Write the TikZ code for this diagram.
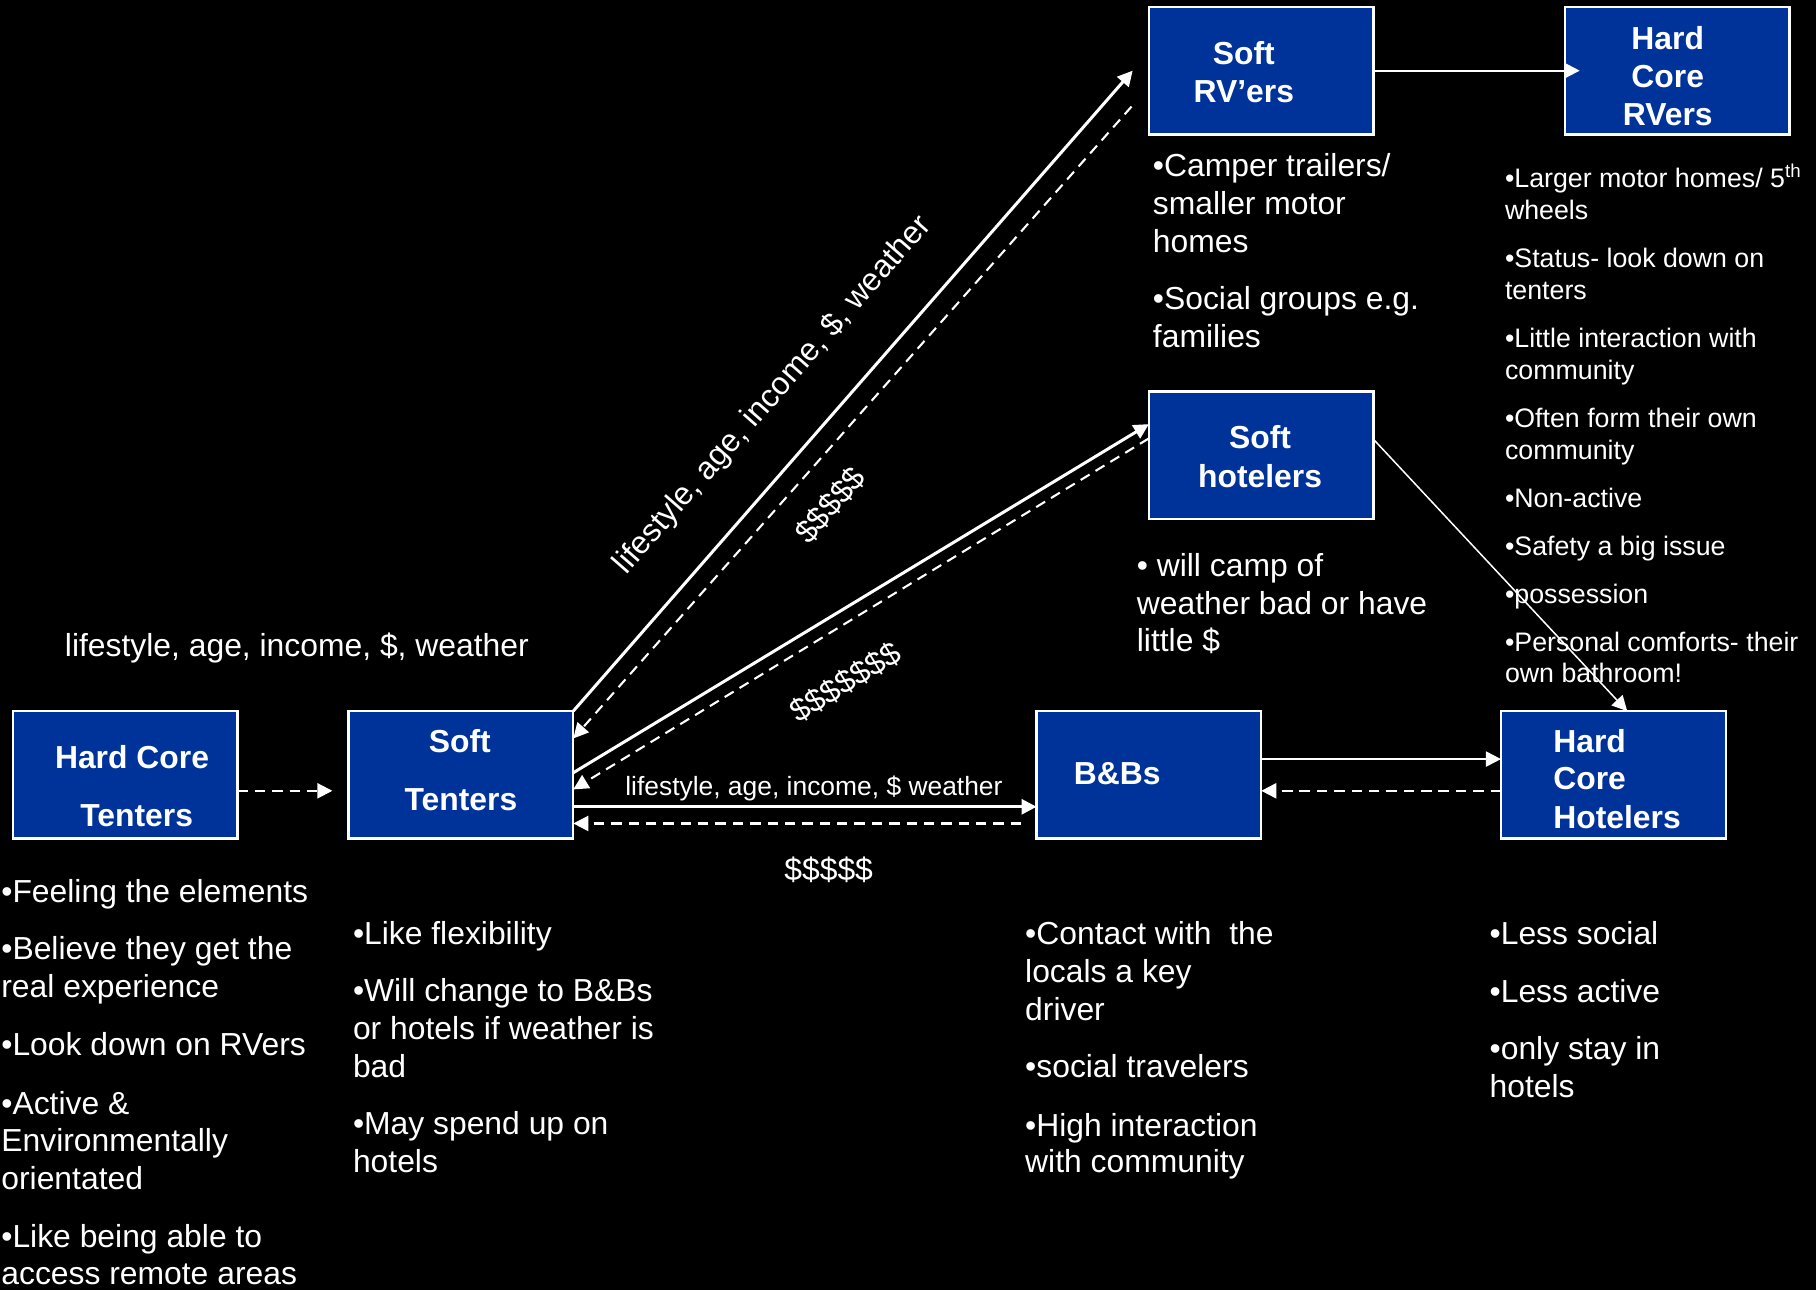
\documentclass[tikz,border=0pt]{standalone}
\usepackage{fontspec}
\setmainfont{Liberation Sans}
\usetikzlibrary{arrows.meta}
\definecolor{boxblue}{HTML}{003399}
\begin{document}
\begin{tikzpicture}[x=1pt,y=-1pt,
  box/.style={draw=white,line width=2pt,fill=boxblue,minimum width=194pt,minimum height=110pt,inner sep=0pt,outer sep=0pt},
  btxt/.style={text=white,font=\fontsize{27.5}{33}\selectfont\bfseries,inner sep=0pt,anchor=base},
  body/.style={text=white,font=\fontsize{27.5}{33}\selectfont,inner sep=0pt,anchor=base west},
  small/.style={text=white,font=\fontsize{23.1}{28}\selectfont,inner sep=0pt,anchor=base west},
  arr/.style={draw=white,-{Triangle[length=13pt,width=13pt]}},
  thickarr/.style={arr,line width=2.6pt},
  dasharr/.style={arr,line width=1.8pt,dash pattern=on 9pt off 6pt},
  thinarr/.style={arr,line width=1.8pt},
  hairarr/.style={arr,line width=1.3pt}
]
\path[use as bounding box,fill=black] (0,0) rectangle (1568,1114);

% boxes
\node[box] (hct) at (108,669) {};
\node[box] (st) at (398,669) {};
\node[box] (bb) at (992,669) {};
\node[box] (hch) at (1393,669) {};
\node[box] (srv) at (1089,61) {};
\node[box] (hcrv) at (1448,61) {};
\node[box] (sh) at (1089,393) {};

% connectors
\draw[dasharr] ([yshift=-13.8pt]hct.east) -- ([xshift=-14pt,yshift=-13.8pt]st.west);
\draw[thickarr] (st.north east) -- ([xshift=-14pt]srv.west);
\draw[dasharr] ([xshift=-15pt,yshift=-31pt]srv.west) -- ([yshift=-23.6pt]st.north east);
\draw[thickarr] ([yshift=1.8pt]st.east) -- ([yshift=26.8pt]sh.west);
\draw[dasharr] ([yshift=14.5pt]sh.west) -- ([yshift=-12.6pt]st.east);
\draw[thickarr] ([yshift=-27.6pt]st.east) -- ([yshift=-27.6pt]bb.west);
\draw[dasharr] ([xshift=-13.3pt,yshift=-42pt]bb.west) -- ([yshift=-42pt]st.east);
\draw[thinarr] (srv.east) -- ([xshift=13pt]hcrv.west);
\draw[thinarr] ([yshift=13.6pt]bb.east) -- ([yshift=13.6pt]hch.west);
\draw[dasharr] ([yshift=-13.8pt]hch.west) -- ([yshift=-13.8pt]bb.east);

% box labels
\node[btxt] (hct1) at (114,663.5) {Hard Core};
\node[btxt] (hct2) at (118,714) {Tenters};
\node[btxt] (st1) at (397,650) {Soft};
\node[btxt] (st2) at (398,700) {Tenters};
\node[btxt] (srv1) at (1074,56) {Soft};
\node[btxt] (srv2) at (1074,88.5) {RV’ers};
\node[btxt] (hcrv1) at (1440,42.5) {Hard};
\node[btxt] (hcrv2) at (1440,75.5) {Core};
\node[btxt] (hcrv3) at (1440,108) {RVers};
\node[btxt] (sh1) at (1088,387.5) {Soft};
\node[btxt] (sh2) at (1088,420.5) {hotelers};
\node[btxt,anchor=base west] (bb1) at (927,677.5) {B\&Bs};
\node[btxt,anchor=base west] (hch1) at (1341,649.5) {Hard};
\node[btxt,anchor=base west] (hch2) at (1341,682) {Core};
\node[btxt,anchor=base west] (hch3) at (1341,715) {Hotelers};

% connector labels
\node[body] (lab1) at (55.9,566.5) {lifestyle, age, income, \$, weather};
\node[body,anchor=base,rotate=48.8] (lab2) at (673,346) {lifestyle, age, income, \$, weather};
\node[body,anchor=center,rotate=48.8] (lab3) at (717,436) {\$\$\$\$\$};
\node[body,anchor=center,rotate=31.3] (lab4) at (730,589) {\$\$\$\$\$\$\$};
\node[text=white,font=\fontsize{22.8}{27}\selectfont,inner sep=0pt,anchor=base west] (lab5) at (539.7,686.5) {lifestyle, age, income, \$ weather};
\node[body,anchor=base] (lab6) at (715.5,760.5) {\$\$\$\$\$};

% Hard Core Tenters notes
\node[body] (a1) at (1,779.5) {•Feeling the elements};
\node[body] (a2) at (1,828.5) {•Believe they get the};
\node[body] (a3) at (1,861.5) {real experience};
\node[body] (a4) at (1,911.5) {•Look down on RVers};
\node[body] (a5) at (1,962) {•Active \&};
\node[body] (a6) at (1,994.5) {Environmentally};
\node[body] (a7) at (1,1027) {orientated};
\node[body] (a8) at (1,1077.5) {•Like being able to};
\node[body] (a9) at (1,1109) {access remote areas};

% Soft Tenters notes
\node[body] (b1) at (304.6,815.5) {•Like flexibility};
\node[body] (b2) at (304.6,864.5) {•Will change to B\&Bs};
\node[body] (b3) at (304.6,897.5) {or hotels if weather is};
\node[body] (b4) at (304.6,930.5) {bad};
\node[body] (b5) at (304.6,979.5) {•May spend up on};
\node[body] (b6) at (304.6,1012.5) {hotels};

% B&Bs notes
\node[body] (c1) at (885,815.5) {•Contact with~ the};
\node[body] (c2) at (885,848.5) {locals a key};
\node[body] (c3) at (885,881.5) {driver};
\node[body] (c4) at (885,930.5) {•social travelers};
\node[body] (c5) at (885,981) {•High interaction};
\node[body] (c6) at (885,1012.5) {with community};

% Hard Core Hotelers notes
\node[body] (d1) at (1286,815.5) {•Less social};
\node[body] (d2) at (1286,866) {•Less active};
\node[body] (d3) at (1286,914.5) {•only stay in};
\node[body] (d4) at (1286,947.5) {hotels};

% Soft RV'ers notes
\node[body] (e1) at (995.3,152) {•Camper trailers/};
\node[body] (e2) at (995.3,185) {smaller motor};
\node[body] (e3) at (995.3,218) {homes};
\node[body] (e4) at (995.3,267) {•Social groups e.g.};
\node[body] (e5) at (995.3,300) {families};

% Soft hotelers notes
\node[body] (f1) at (981.4,497.5) {• will camp of};
\node[body] (f2) at (981.4,530.5) {weather bad or have};
\node[body] (f3) at (981.4,562.5) {little \$};

% Hard Core RVers notes
\node[small] (g1) at (1299.3,162) {•Larger motor homes/ 5\textsuperscript{th}};
\node[small] (g2) at (1299.3,189.5) {wheels};
\node[small] (g3) at (1299.3,231) {•Status- look down on};
\node[small] (g4) at (1299.3,258.5) {tenters};
\node[small] (g5) at (1299.3,300.2) {•Little interaction with};
\node[small] (g6) at (1299.3,327.5) {community};
\node[small] (g7) at (1299.3,369.2) {•Often form their own};
\node[small] (g8) at (1299.3,396.5) {community};
\node[small] (g9) at (1299.3,438.3) {•Non-active};
\node[small] (g10) at (1299.3,480) {•Safety a big issue};
\node[small] (g11) at (1299.3,521.2) {•possession};
\node[small] (g12) at (1299.3,562.7) {•Personal comforts- their};
\node[small] (g13) at (1299.3,589.4) {own bathroom!};

\draw[hairarr] ([yshift=13.6pt]sh.east) -- ([xshift=12pt]hch.north);
\end{tikzpicture}
\end{document}
